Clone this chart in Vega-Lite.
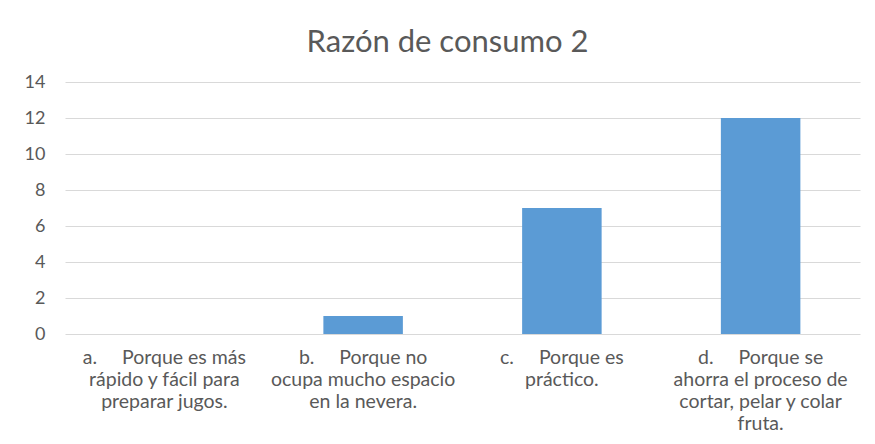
{
  "$schema": "https://vega.github.io/schema/vega-lite/v6.json",
  "width": 795,
  "height": 252,
  "autosize": {"type": "none"},
  "padding": {"left": 65, "top": 82, "right": 15, "bottom": 110},
  "background": "white",
  "title": {
    "text": "Razón de consumo 2",
    "font": "Lato",
    "fontSize": 31,
    "fontWeight": "normal",
    "color": "#595959",
    "anchor": "middle",
    "dx": -15,
    "offset": 14
  },
  "data": {
    "values": [
      {"razon": "a.\u00a0\u00a0\u00a0\u00a0\u00a0Porque es más|rápido y fácil para|preparar jugos.", "orden": 1, "valor": 0},
      {"razon": "b.\u00a0\u00a0\u00a0\u00a0\u00a0Porque no|ocupa mucho espacio|en la nevera.", "orden": 2, "valor": 1},
      {"razon": "c.\u00a0\u00a0\u00a0\u00a0\u00a0Porque es|práctico.\u00a0\u00a0\u00a0\u00a0\u00a0\u00a0\u00a0\u00a0\u00a0\u00a0", "orden": 3, "valor": 7},
      {"razon": "d.\u00a0\u00a0\u00a0\u00a0\u00a0Porque se|ahorra el proceso de|cortar, pelar y colar|fruta.", "orden": 4, "valor": 12}
    ]
  },
  "mark": {"type": "bar", "color": "#5B9BD5"},
  "encoding": {
    "x": {
      "field": "razon",
      "type": "nominal",
      "sort": {"field": "orden"},
      "scale": {"paddingInner": 0.6, "paddingOuter": 0.3},
      "axis": {
        "title": null,
        "labelAngle": 0,
        "labelExpr": "split(datum.label, '|')",
        "labelFont": "Lato",
        "labelFontSize": 19.5,
        "labelColor": "#595959",
        "labelLineHeight": 22,
        "labelPadding": 14,
        "labelBaseline": "top",
        "labelLimit": 0,
        "ticks": false,
        "domain": false
      }
    },
    "y": {
      "field": "valor",
      "type": "quantitative",
      "scale": {"domain": [0, 14]},
      "axis": {
        "title": null,
        "values": [0, 2, 4, 6, 8, 10, 12, 14],
        "labelFont": "Lato",
        "labelFontSize": 18,
        "labelColor": "#595959",
        "labelPadding": 20,
        "ticks": false,
        "domain": false,
        "gridColor": "#d9d9d9",
        "gridWidth": 1
      }
    }
  },
  "config": {"view": {"stroke": null}}
}
